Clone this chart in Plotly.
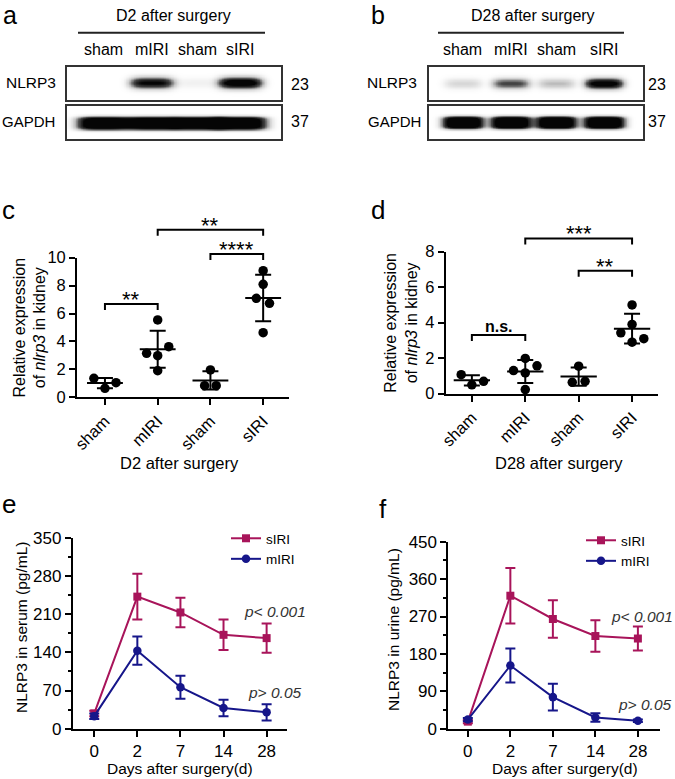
import numpy as np
import plotly.graph_objects as go

W, H = 675, 779
FONT = "Arial, Liberation Sans, Helvetica, sans-serif"

# ------------------------- data -------------------------
lanes = ["sham", "mIRI", "sham", "sIRI"]
blot_a_nlrp3 = [0.0, 0.80, 0.05, 0.97]
blot_a_gapdh = [1.0, 1.0, 1.0, 1.0]
blot_b_nlrp3 = [0.14, 0.50, 0.22, 0.92]
blot_b_gapdh = [1.0, 1.0, 1.0, 1.0]
blot_kda = ["23", "37"]

c_sham1 = [1.36, 0.64, 1.05]
c_miri = [5.54, 3.15, 2.98, 3.63, 1.91]
c_sham2 = [1.96, 0.83, 0.83]
c_siri = [9.07, 8.09, 7.09, 6.73, 4.63]

d_sham1 = [1.07, 0.50, 0.70]
d_miri = [1.99, 1.30, 1.57, 1.17, 0.23]
d_sham2 = [1.55, 0.64, 0.70]
d_siri = [5.00, 3.90, 3.43, 3.10, 2.90]

c_brk_left = [1, 2, 0]
c_brk_right = [3, 3, 1]
c_brk_y = [12.0, 10.27, 6.68]
c_brk_txt = ["**", "****", "**"]

d_brk_left = [1, 2, 0]
d_brk_right = [3, 3, 1]
d_brk_y = [8.75, 6.93, 3.31]
d_brk_txt = ["***", "**", "<b>n.s.</b>"]

days = ["0", "2", "7", "14", "28"]
serum_siri = [28, 242, 213, 172, 166]
serum_siri_err = [5, 42, 27, 28, 27]
serum_miri = [23, 143, 76, 38, 30]
serum_miri_err = [5, 26, 21, 15, 15]
urine_siri = [17, 320, 264, 223, 217]
urine_siri_err = [4, 67, 45, 38, 29]
urine_miri = [22, 152, 76, 27, 19]
urine_miri_err = [4, 41, 32, 10, 3]

# ------------------------- style -------------------------
C_SIRI = "#A8145A"
C_MIRI = "#16168A"
c_jitter = [[-0.21, 0, 0.21], [0, -0.21, 0, 0.21, 0], [0, -0.11, 0.11], [0, 0, -0.13, 0.12, 0]]
d_jitter = [[-0.2, 0, 0.22], [0, -0.22, 0.22, 0, 0], [0, -0.12, 0.12], [0, 0, -0.21, 0.22, 0]]
lane_x_a = [0.78, 1.82, 2.80, 3.72]
lane_x_b = [0.73, 1.76, 2.73, 3.76]


def dx(a, b):
    return [a / W, b / W]


def dy(top, bottom):
    return [1 - bottom / H, 1 - top / H]


def px(x):
    return x / W


def py(y):
    return 1 - y / H


def ann(x, y, text, size=16, xanchor="center", yanchor="middle", xref="paper", yref="paper", **kw):
    d = dict(x=x, y=y, xref=xref, yref=yref, text=text, showarrow=False, borderpad=0,
             xanchor=xanchor, yanchor=yanchor, font=dict(size=size, **kw.pop("font", {})))
    d.update(kw)
    return d


fig = go.Figure()
layout = dict(
    width=W, height=H, margin=dict(l=0, r=0, t=0, b=0, pad=0, autoexpand=False), autosize=False,
    paper_bgcolor="white", plot_bgcolor="rgba(0,0,0,0)",
    font=dict(family=FONT, color="black", size=16),
    showlegend=True,
)
annotations = []
shapes = []

# ------------------------- western blots -------------------------
xs = np.linspace(0, 4.6, 300)
ys = np.linspace(0, 1, 60)
XX, YY = np.meshgrid(xs, ys)


def blot(intens, centers, halfw, yc, hh, gain, yexp):
    z = np.zeros_like(XX)
    for I, c in zip(intens, centers):
        z += gain * I * np.exp(-np.abs((XX - c) / halfw) ** 4) * np.exp(-np.abs((YY - yc) / hh) ** yexp)
    return np.clip(z, 0, 1)


blot_cs = [[0, "#ffffff"], [0.25, "#c8c8c8"], [0.6, "#4a4a4a"], [1, "#050505"]]
blot_boxes = [
    ("x1", "y1", dx(67, 281), dy(67, 100), blot(blot_a_nlrp3, lane_x_a, 0.46, 0.52, 0.16, 1.3, 2)),
    ("x2", "y2", dx(67, 281), dy(106, 139), blot(blot_a_gapdh, lane_x_a, 0.55, 0.48, 0.20, 1.4, 4)),
    ("x3", "y3", dx(429, 643), dy(67, 100), blot(blot_b_nlrp3, lane_x_b, 0.40, 0.50, 0.15, 1.3, 2)),
    ("x4", "y4", dx(429, 643), dy(106, 139), blot(blot_b_gapdh, lane_x_b, 0.43, 0.50, 0.19, 1.5, 4)),
]
for i, (xa, ya, xd, yd, z) in enumerate(blot_boxes, start=1):
    fig.add_trace(go.Heatmap(x=xs, y=ys, z=z, colorscale=blot_cs, zmin=0, zmax=1,
                             showscale=False, zsmooth="best", xaxis=xa, yaxis=ya,
                             hoverinfo="skip", showlegend=False))
    ax = dict(domain=xd, range=[0, 4.6], showticklabels=False, ticks="", showgrid=False,
              zeroline=False, showline=True, mirror=True, linecolor="#333", linewidth=1.5,
              anchor=ya)
    ay = dict(domain=yd, range=[0, 1], showticklabels=False, ticks="", showgrid=False,
              zeroline=False, showline=True, mirror=True, linecolor="#333", linewidth=1.5,
              anchor=xa)
    layout["xaxis" if i == 1 else f"xaxis{i}"] = ax
    layout["yaxis" if i == 1 else f"yaxis{i}"] = ay

for (xa, lx, hx, htxt, l0, l1, nl, gl, kx) in [
    ("x1", lane_x_a, 173, "D2 after surgery", 78, 265, 57, 56, 290),
    ("x3", lane_x_b, 533, "D28 after surgery", 438, 624, 418, 422, 647),
]:
    annotations.append(ann(px(hx), py(15), htxt, 16))
    shapes.append(dict(type="line", xref="paper", yref="paper", x0=px(l0), x1=px(l1),
                       y0=py(32.7), y1=py(32.7), line=dict(color="#222", width=2)))
    for lx_i, lab in zip(lx, lanes):
        annotations.append(ann(lx_i, py(50), lab, 16, xref=xa))
    annotations.append(ann(px(nl), py(83), "NLRP3", 15.5, xanchor="right"))
    annotations.append(ann(px(gl), py(122), "GAPDH", 15, xanchor="right"))
    annotations.append(ann(px(kx), py(84), blot_kda[0], 16, xanchor="left"))
    annotations.append(ann(px(kx), py(122), blot_kda[1], 16, xanchor="left"))

# ------------------------- dot plots c, d -------------------------
def dotplot(groups, jitter, xa, ya, idx, xd, yd, xrng, yrange, dtick, brk, ovx, ovy, ovtop, ytop_px, ybot_px):
    allx, ally, mx, my, means, sds = [], [], [], [], [], []
    for g, (vals, jit) in enumerate(zip(groups, jitter)):
        allx += [g + j for j in jit]
        ally += list(vals)
        m = float(np.mean(vals))
        s = float(np.std(vals, ddof=1))
        means.append(m)
        sds.append(s)
        mx += [g - 0.34, g + 0.34, None]
        my += [m, m, None]
    fig.add_trace(go.Scatter(x=allx, y=ally, mode="markers", xaxis=xa, yaxis=ya,
                             marker=dict(color="black", size=9.5), cliponaxis=False,
                             showlegend=False, hoverinfo="skip"))
    fig.add_trace(go.Scatter(x=mx, y=my, mode="lines", xaxis=xa, yaxis=ya,
                             line=dict(color="black", width=2), showlegend=False, hoverinfo="skip"))
    fig.add_trace(go.Scatter(x=list(range(len(groups))), y=means, mode="markers", xaxis=xa, yaxis=ya,
                             marker=dict(opacity=0, size=1), cliponaxis=False,
                             error_y=dict(type="data", array=sds, width=8, thickness=2, color="black"),
                             showlegend=False, hoverinfo="skip"))
    layout[f"xaxis{idx}"] = dict(domain=xd, range=xrng, anchor=ya,
                                 tickvals=[0, 1, 2, 3], ticktext=lanes, tickangle=-45,
                                 ticks="outside", ticklen=6, tickwidth=1.8, tickcolor="black",
                                 showline=True, linecolor="black", linewidth=1.8, showgrid=False,
                                 zeroline=False, tickfont=dict(size=16.5))
    layout[f"yaxis{idx}"] = dict(domain=yd, range=yrange, dtick=dtick, anchor=xa,
                                 ticks="outside", ticklen=6, tickwidth=1.8, tickcolor="black",
                                 showline=True, linecolor="black", linewidth=1.8, showgrid=False,
                                 zeroline=False, tickfont=dict(size=16.5))
    ppu = (ybot_px - ytop_px) / yrange[1]
    ovrange = (ybot_px - ovtop) / ppu
    drop = 6 / ppu
    bx, by = [], []
    left, right, yy, txt = brk
    for l, r, y in zip(left, right, yy):
        bx += [l, l, r, r, None]
        by += [y - drop, y, y, y - drop, None]
    ovn = int(ovx[1:])
    fig.add_trace(go.Scatter(x=bx, y=by, mode="lines", xaxis=ovx, yaxis=ovy,
                             line=dict(color="black", width=2), showlegend=False, hoverinfo="skip"))
    layout[f"xaxis{ovn}"] = dict(domain=xd, range=xrng, anchor=ovy, visible=False)
    layout[f"yaxis{ovn}"] = dict(domain=dy(ovtop, ybot_px), range=[0, ovrange], anchor=ovx,
                                 visible=False)
    for l, r, y, t in zip(left, right, yy, txt):
        ns = "n.s." in t
        annotations.append(ann((l + r) / 2, y, t, 16 if ns else 22, yanchor="bottom",
                               xref=ovx, yref=ovy, yshift=(-1 if ns else -9)))


dotplot([c_sham1, c_miri, c_sham2, c_siri], c_jitter, "x5", "y5", 5, dx(77, 289),
        dy(257.7, 397.3), [-0.53, 3.49], [0, 10], 2, (c_brk_left, c_brk_right, c_brk_y, c_brk_txt),
        "x9", "y9", 205, 257.7, 397.3)
dotplot([d_sham1, d_miri, d_sham2, d_siri], d_jitter, "x6", "y6", 6, dx(445.7, 657.7),
        dy(251.7, 393.7), [-0.49, 3.48], [0, 8], 2, (d_brk_left, d_brk_right, d_brk_y, d_brk_txt),
        "x10", "y10", 205, 251.7, 393.7)

for (cx, cy) in [(29, 327.5), (401, 322.7)]:
    annotations.append(ann(px(cx), py(cy), "Relative expression<br>of <i>nlrp3</i> in kidney", 16,
                           textangle=-90))
annotations.append(ann(px(179), py(462.7), "D2 after surgery", 16.5))
annotations.append(ann(px(559), py(462.7), "D28 after surgery", 16.5))

# ------------------------- line charts e, f -------------------------
def linechart(xa, ya, idx, xd, yd, xr, yr, dt, s, se, m, me, legname):
    xi = list(range(len(days)))
    fig.add_trace(go.Scatter(x=xi, y=s, mode="lines+markers", name="sIRI", xaxis=xa, yaxis=ya,
                             line=dict(color=C_SIRI, width=2),
                             marker=dict(symbol="square", size=8, color=C_SIRI),
                             error_y=dict(type="data", array=se, width=5, thickness=2, color=C_SIRI),
                             legend=legname, cliponaxis=False, hoverinfo="skip"))
    fig.add_trace(go.Scatter(x=xi, y=m, mode="lines+markers", name="mIRI", xaxis=xa, yaxis=ya,
                             line=dict(color=C_MIRI, width=2),
                             marker=dict(symbol="circle", size=8.5, color=C_MIRI),
                             error_y=dict(type="data", array=me, width=5, thickness=2, color=C_MIRI),
                             legend=legname, cliponaxis=False, hoverinfo="skip"))
    layout[f"xaxis{idx}"] = dict(domain=xd, range=xr, anchor=ya, tickvals=xi, ticktext=days,
                                 ticks="outside", ticklen=6, tickwidth=1.8, tickcolor="black",
                                 showline=True, linecolor="black", linewidth=1.8, showgrid=False,
                                 zeroline=False, tickfont=dict(size=17))
    layout[f"yaxis{idx}"] = dict(domain=yd, range=yr, dtick=dt, anchor=xa,
                                 ticks="outside", ticklen=6, tickwidth=1.8, tickcolor="black",
                                 minor=dict(dtick=dt / 2, ticks="outside", ticklen=3, tickwidth=1.5,
                                            tickcolor="black", showgrid=False),
                                 showline=True, linecolor="black", linewidth=1.8, showgrid=False,
                                 zeroline=False, tickfont=dict(size=17))


linechart("x7", "y7", 7, dx(72.7, 287.3), dy(537.7, 728.7), [-0.5, 4.48], [0, 350], 70,
          serum_siri, serum_siri_err, serum_miri, serum_miri_err, "legend")
linechart("x8", "y8", 8, dx(448.3, 660), dy(541.7, 728.7), [-0.46, 4.52], [0, 450], 90,
          urine_siri, urine_siri_err, urine_miri, urine_miri_err, "legend2")

leg = dict(xanchor="left", yanchor="top", bgcolor="rgba(0,0,0,0)", font=dict(size=13.5),
           itemwidth=30, tracegroupgap=0)
layout["legend"] = dict(leg, x=px(226), y=py(523))
layout["legend2"] = dict(leg, x=px(581), y=py(525))

for (cx, cy, t) in [(21, 628, "NLRP3 in serum (pg/mL)"), (393, 630, "NLRP3 in urine (pg/mL)")]:
    annotations.append(ann(px(cx), py(cy), t, 15.5, textangle=-90))
for cx in (180, 565):
    annotations.append(ann(px(cx), py(768), "Days after surgery(d)", 15.5))
for (lx, ly, t) in [(243, 611, "p&lt; 0.001"), (247, 692.7, "p&gt; 0.05"),
                    (610, 616.7, "p&lt; 0.001"), (617, 704, "p&gt; 0.05")]:
    annotations.append(ann(px(lx), py(ly), f"<i>{t}</i>", 15.5, xanchor="left",
                           font=dict(color="#333")))

# ------------------------- panel letters -------------------------
annotations.append(ann(px(2), 1.0, "a", 25, xanchor="left", yanchor="top"))
annotations.append(ann(px(370), 1.0, "b", 25, xanchor="left", yanchor="top"))
for (lx, base, t) in [(1, 219, "c"), (370, 219, "d"), (1, 513, "e"), (378, 518, "f")]:
    annotations.append(ann(px(lx), py(base - 9), t, 26, xanchor="left"))

layout["annotations"] = annotations
layout["shapes"] = shapes
fig.update_layout(**layout)
fig.write_html("out.html", config={"displayModeBar": False},
               post_script="document.body.style.margin='0px';document.body.style.overflow='hidden';")
